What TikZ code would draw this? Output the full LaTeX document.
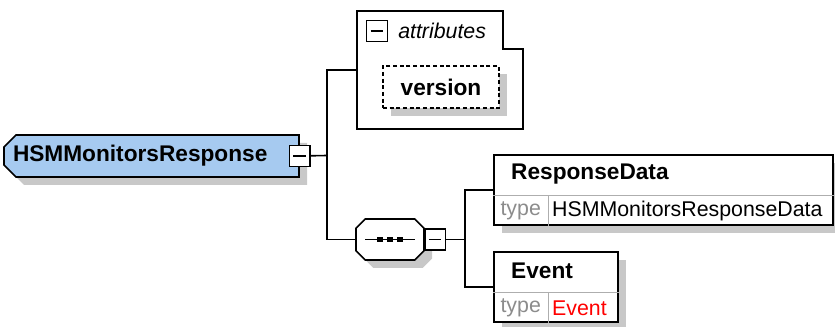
\documentclass[tikz,border=0pt]{standalone}
\usepackage{fontspec}
\setmainfont{Liberation Sans}
\usetikzlibrary{shapes.misc,shadows}
\definecolor{bleuelement}{RGB}{166,202,240}
\definecolor{ombre}{RGB}{200,200,200}
\definecolor{gristype}{RGB}{140,140,140}
\definecolor{rougetype}{RGB}{255,0,0}

\begin{document}
\begin{tikzpicture}[x=0.75pt,y=-0.75pt]
\useasboundingbox (0,0) rectangle (835,327);
% Polices (MODIFIABLES)
\def\PoliceGras{\fontsize{17}{20}\selectfont\bfseries}
\def\PoliceNormale{\fontsize{16}{19}\selectfont}
\def\PoliceItalique{\fontsize{16}{19}\selectfont\itshape}
\def\Pan{7pt}
% Styles (MODIFIABLES)
\tikzstyle{lien}=[black,line width=1.2pt]
\tikzstyle{separateur}=[gristype!70,line width=.6pt]
\tikzstyle{ombrage}=[drop shadow={shadow xshift=6pt,shadow yshift=-6pt,fill=ombre,opacity=1}]
\tikzstyle{racine}=[chamfered rectangle,chamfered rectangle corners={north west,south west},chamfered rectangle xsep=4.5pt,chamfered rectangle ysep=4.5pt,draw,line width=1.2pt,fill=bleuelement,ombrage,minimum width=221.25pt,minimum height=31.5pt,inner xsep=1pt,inner ysep=0pt,text width=207.75pt,align=left,font=\PoliceGras]
\tikzstyle{sequence}=[minimum width=51pt,minimum height=30.75pt,inner sep=0pt,outer sep=0pt]
\tikzstyle{moins}=[draw,line width=1.2pt,fill=white,minimum size=15.5pt,inner sep=0pt,path picture={\draw[line width=1pt] ([xshift=3pt]path picture bounding box.west) -- ([xshift=-3pt]path picture bounding box.east);}]
\tikzstyle{conteneur}=[minimum width=124.5pt,minimum height=88.5pt,inner sep=0pt,outer sep=0pt]
\tikzstyle{attribut}=[draw,dash pattern=on 3pt off 2pt,line width=1.2pt,fill=white,ombrage,minimum width=87pt,minimum height=31.5pt,inner sep=0pt,font=\PoliceGras]
\tikzstyle{element}=[draw,line width=1.2pt,fill=white,ombrage,minimum height=52.5pt,inner sep=0pt]
\tikzstyle{nom}=[anchor=west,inner xsep=13.5pt,inner ysep=0pt,outer sep=0pt,font=\PoliceGras]
\tikzstyle{typecell}=[anchor=south west,minimum width=41.25pt,minimum height=22.5pt,inner sep=0pt,outer sep=0pt,text=gristype,font=\PoliceNormale]
\tikzstyle{valeur}=[anchor=west,inner xsep=3pt,inner ysep=0pt,outer sep=0pt,font=\PoliceNormale]
% Noeuds
\node[racine] (R) at (151.5,156) {HSMMonitorsResponse};
\node[moins] (Rm) at (R.east) {};
\node[conteneur] (Ra) at (440,70) {};
\draw[lien] (Ra.south west) -- (Ra.north west) -- ([xshift=-15pt]Ra.north east) -- ++(0,-28.5pt) -| (Ra.south east) -- cycle;
\node[moins] (Ram) at (377,31) {};
\node[anchor=west,inner sep=0pt,font=\PoliceItalique] (Rat) at (398,31) {attributes};
\node[attribut] (Raa) at (441,87) {version};
\node[sequence] (Rb) at (390,239.5) {};
\draw[lien,fill=white,ombrage] ([xshift=\Pan]Rb.north west) -- ([xshift=-\Pan]Rb.north east)
  -- ([yshift=-\Pan]Rb.north east) -- ([yshift=\Pan]Rb.south east)
  -- ([xshift=-\Pan]Rb.south east) -- ([xshift=\Pan]Rb.south west)
  -- ([yshift=\Pan]Rb.south west) -- ([yshift=-\Pan]Rb.north west) -- cycle;
\draw[lien] ([xshift=-18.75pt]Rb.center) -- ([xshift=18.75pt]Rb.center);
\foreach \d in {-7.5pt,0pt,7.5pt}
  \fill ([xshift=\d]Rb.center) +(-1.9pt,-1.9pt) rectangle +(1.9pt,1.9pt);
\node[moins,anchor=west] (Rbm) at (Rb.east) {};
% ResponseData
\node[element,minimum width=254.25pt] (Rba) at (663.5,190) {};
\node[nom] (Rban) at ([yshift=-15pt]Rba.north west) {ResponseData};
\node[typecell] (Rbat) at (Rba.south west) {type};
\node[valeur] (Rbav) at (Rbat.east) {HSMMonitorsResponseData};
\draw[separateur] (Rbat.north west) -- (Rbat.north west -| Rba.east);
\draw[separateur] (Rbat.north east) -- (Rbat.south east);
% Event
\node[element,minimum width=93pt] (Rbb) at (556,287) {};
\node[nom] (Rbbn) at ([yshift=-15pt]Rbb.north west) {Event};
\node[typecell] (Rbbt) at (Rbb.south west) {type};
\node[valeur,text=rougetype] (Rbbv) at (Rbbt.east) {Event};
\draw[separateur] (Rbbt.north west) -- (Rbbt.north west -| Rbb.east);
\draw[separateur] (Rbbt.north east) -- (Rbbt.south east);
% Liens
\coordinate (Rj) at (327,155.5);
\coordinate (Rbj) at (465,239.5);
\draw[lien] (Rm) -- (Rj);
\draw[lien] (Ra.west) -| (Rj) |- (Rb.west);
\draw[lien] (Rbm) -- (Rbj);
\draw[lien] (Rba.west) -| (Rbj) |- (Rbb.west);
\end{tikzpicture}
\end{document}
